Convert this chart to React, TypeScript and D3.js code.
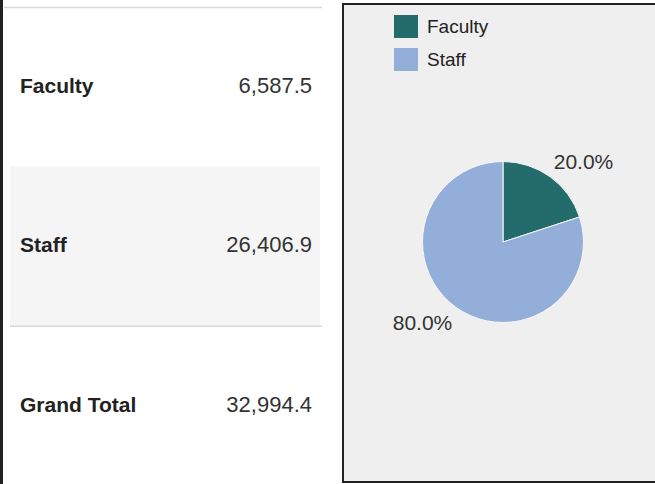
import React, { useRef, useEffect } from 'react';
import * as d3 from 'd3';

// table + pie data
const categories = ['Faculty', 'Staff'];
const values = [6587.5, 26406.9];
const totalLabel = 'Grand Total';
const colors = ['#246b6c', '#93aed8'];

const W = 655;
const H = 484;

const App = () => {
  const svgRef = useRef<SVGSVGElement | null>(null);

  useEffect(() => {
    const svg = d3.select(svgRef.current);
    svg.selectAll('*').remove();

    const font = 'Arial, "Liberation Sans", sans-serif';
    const total = d3.sum(values);
    const rows = [...categories.map((c, i) => ({ label: c, value: values[i] })), { label: totalLabel, value: total }];

    // left border
    svg.append('rect').attr('x', 0).attr('y', 0).attr('width', 3).attr('height', H).attr('fill', '#222');

    // table rows
    const y = d3.scaleBand<string>()
      .domain(rows.map(d => d.label))
      .range([7, H + 1]);

    const tbl = svg.append('g');
    tbl.append('rect')
      .attr('x', 10).attr('y', y('Staff')!)
      .attr('width', 310).attr('height', y.bandwidth())
      .attr('fill', '#f5f5f5');

    tbl.append('line')
      .attr('x1', 4).attr('x2', 322).attr('y1', 7.5).attr('y2', 7.5)
      .attr('stroke', '#d8d8d8').attr('stroke-width', 1.5);
    tbl.append('line')
      .attr('x1', 10).attr('x2', 322)
      .attr('y1', y(totalLabel)! + 0.5).attr('y2', y(totalLabel)! + 0.5)
      .attr('stroke', '#d8d8d8').attr('stroke-width', 1.5);

    const fmt = d3.format(',.1f');
    tbl.selectAll('.lbl')
      .data(rows)
      .enter().append('text')
      .attr('x', 20)
      .attr('y', d => y(d.label)! + 86)
      .style('font-family', font)
      .style('font-size', '21px')
      .style('font-weight', 'bold')
      .attr('fill', '#222')
      .text(d => d.label);

    tbl.selectAll('.val')
      .data(rows)
      .enter().append('text')
      .attr('x', 312)
      .attr('y', d => y(d.label)! + 86)
      .attr('text-anchor', 'end')
      .style('font-family', font)
      .style('font-size', '22px')
      .attr('fill', '#333')
      .text(d => fmt(d.value));

    // chart panel
    svg.append('rect')
      .attr('x', 343).attr('y', 4)
      .attr('width', 340).attr('height', 478)
      .attr('fill', '#efefef')
      .attr('stroke', '#222').attr('stroke-width', 2);

    // legend
    const legend = svg.append('g').attr('transform', 'translate(394,15)');
    const li = legend.selectAll('g')
      .data(categories)
      .enter().append('g')
      .attr('transform', (d, i) => `translate(0,${i * 33})`);
    li.append('rect')
      .attr('width', 24).attr('height', 23)
      .attr('fill', (d, i) => colors[i]);
    li.append('text')
      .attr('x', 33).attr('y', 18)
      .style('font-family', font)
      .style('font-size', '19px')
      .attr('fill', '#222')
      .text(d => d);

    // pie
    const cx = 503, cy = 242, r = 80.5;
    const pie = d3.pie<number>().sort(null)(values);
    const arc = d3.arc<d3.PieArcDatum<number>>().innerRadius(0).outerRadius(r);
    const g = svg.append('g').attr('transform', `translate(${cx},${cy})`);
    g.selectAll('path')
      .data(pie)
      .enter().append('path')
      .attr('d', arc)
      .attr('fill', (d, i) => colors[i])
      .attr('stroke', '#f8f8f8')
      .attr('stroke-width', 1);

    const pct = d3.format('.1%');
    g.selectAll('.pl')
      .data(pie)
      .enter().append('text')
      .attr('transform', d => {
        const a = (d.startAngle + d.endAngle) / 2 + 0.157;
        const [px, py] = d3.pointRadial(a, 114);
        return `translate(${px},${py})`;
      })
      .attr('text-anchor', 'middle')
      .attr('dy', '0.36em')
      .style('font-family', font)
      .style('font-size', '21px')
      .attr('fill', '#333')
      .text(d => pct(d.value / total));
  }, []);

  return (
    <svg
      ref={svgRef}
      width={W}
      height={H}
      style={{ position: 'absolute', left: 0, top: 0, background: '#fff' }}
    />
  );
};

export default App;
